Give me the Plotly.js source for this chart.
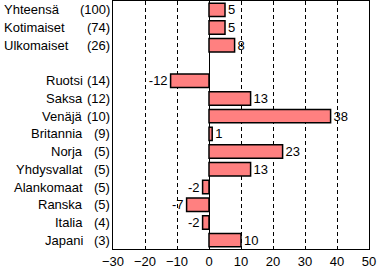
<!DOCTYPE html>
<html>
<head>
<meta charset="utf-8">
<script src="https://cdn.plot.ly/plotly-3.0.1.min.js"></script>
<style>html,body{margin:0;padding:0;background:#fff;}#chart{width:377px;height:271px;}</style>
</head>
<body>
<div id="chart"></div>
<script>
// Data
var categories = ["Yhteensä", "Kotimaiset", "Ulkomaiset", "Ruotsi", "Saksa", "Venäjä", "Britannia", "Norja", "Yhdysvallat", "Alankomaat", "Ranska", "Italia", "Japani"];
var counts = [100, 74, 26, 14, 12, 10, 9, 5, 5, 5, 5, 4, 3];
var values = [5, 5, 8, -12, 13, 38, 1, 23, 13, -2, -7, -2, 10];
var aggregateCount = 3; // first three rows are totals (left-aligned labels), followed by a blank row

var FONT = "Liberation Sans, Arial, sans-serif";
var FS = 13;
var order = categories.slice(0, aggregateCount).concat([" "]).concat(categories.slice(aggregateCount));

var annotations = [];
categories.forEach(function (c, i) {
  var agg = i < aggregateCount;
  annotations.push({
    xref: "paper", yref: "y", x: 0, y: c, text: c, showarrow: false,
    xanchor: agg ? "left" : "right", xshift: agg ? -111 : -28,
    font: {family: FONT, size: FS, color: "#000"}
  });
  annotations.push({
    xref: "paper", yref: "y", x: 0, y: c, text: "(" + counts[i] + ")", showarrow: false,
    xanchor: "right", xshift: -1,
    font: {family: FONT, size: FS, color: "#000"}
  });
});

var trace = {
  type: "bar", orientation: "h",
  x: values, y: categories,
  width: 0.76,
  marker: {color: "#FF8080", line: {color: "#000", width: 1.5}},
  text: values.map(String), textposition: "outside", cliponaxis: false,
  constraintext: "none",
  textfont: {family: FONT, size: FS, color: "#000"},
  hoverinfo: "none"
};

var layout = {
  width: 377, height: 271,
  margin: {l: 113, r: 8, t: 1, b: 22, pad: 0},
  paper_bgcolor: "#fff", plot_bgcolor: "#fff",
  showlegend: false,
  font: {family: FONT, size: FS, color: "#000"},
  xaxis: {
    range: [-30, 50], dtick: 10, tick0: -30,
    showgrid: true, gridcolor: "#000", gridwidth: 1, griddash: "4px,3px",
    zeroline: true, zerolinecolor: "#000", zerolinewidth: 1,
    showline: true, linecolor: "#000", linewidth: 1, mirror: true,
    ticks: "", tickfont: {family: FONT, size: FS, color: "#000"},
    fixedrange: true
  },
  yaxis: {
    type: "category", categoryorder: "array", categoryarray: order,
    range: [order.length - 0.5, -0.5],
    showticklabels: false, ticks: "", showgrid: false, zeroline: false,
    showline: true, linecolor: "#000", linewidth: 1, mirror: true,
    fixedrange: true
  },
  annotations: annotations
};

Plotly.newPlot("chart", [trace], layout, {displayModeBar: false, staticPlot: true});
</script>
</body>
</html>
